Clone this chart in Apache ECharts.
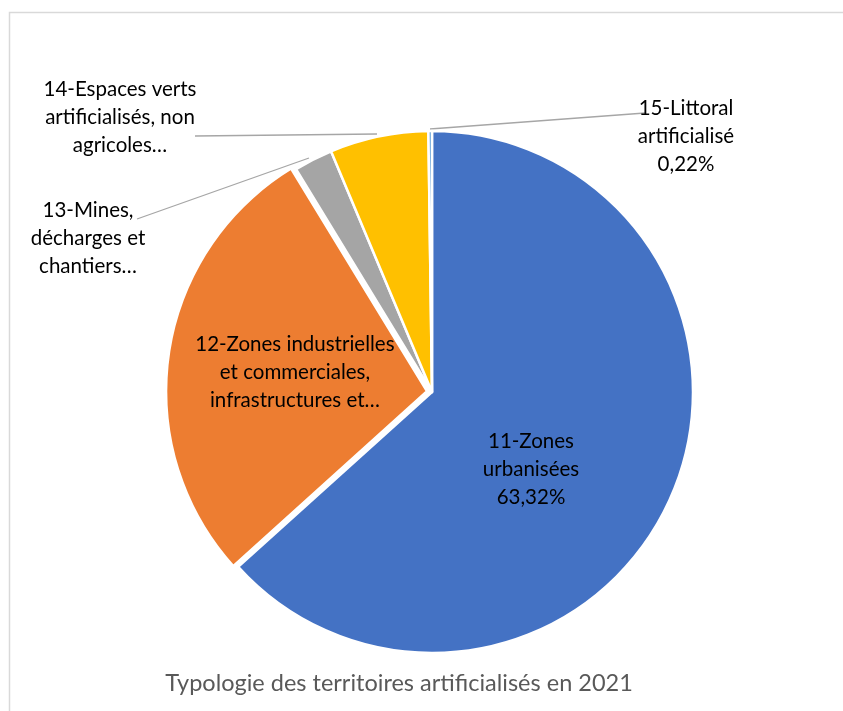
<!DOCTYPE html>
<html>
<head>
<meta charset="utf-8">
<script src="https://cdn.jsdelivr.net/npm/echarts@6/dist/echarts.min.js"></script>
<style>html,body{margin:0;padding:0;background:#fff;}#c{width:843px;height:711px;}</style>
</head>
<body>
<div id="c"></div>
<script>
const categories = [
  '11-Zones urbanisées',
  '12-Zones industrielles et commerciales, infrastructures et…',
  '13-Mines, décharges et chantiers…',
  '14-Espaces verts artificialisés, non agricoles…',
  '15-Littoral artificialisé'
];
const labelTexts = [
  '11-Zones\nurbanisées',
  '12-Zones industrielles\net commerciales,\ninfrastructures et…',
  '13-Mines,\ndécharges et\nchantiers…',
  '14-Espaces verts\nartificialisés, non\nagricoles…',
  '15-Littoral\nartificialisé'
];
const showPercent = [true, false, false, false, true];
const values = [63.32, 27.96, 2.40, 6.10, 0.22];
const colors = ['#4472C4', '#ED7D31', '#A5A5A5', '#FFC000', '#5B9BD5'];
const titleText = 'Typologie des territoires artificialisés en 2021';

const FONT = 'Lato, "Open Sans", sans-serif';

// label anchor positions (annotation placement)
const labelPos = [
  {x: 531, y: 469},
  {x: 283, y: 386},
  {x: 88, y: 238},
  {x: 120, y: 117},
  {x: 686, y: 136}
];
const leaderLines = [
  null,
  null,
  [[309, 158], [137, 219]],
  [[377, 134], [195, 136]],
  [[430, 129], [645, 113]]
];

const chart = echarts.init(document.getElementById('c'), null, {renderer: 'canvas'});

const data = values.map((v, i) => ({
  name: categories[i],
  value: v,
  selected: i === 1,
  itemStyle: {color: colors[i]},
  label: {
    position: (i === 0 || i === 1) ? 'inside' : 'outside'
  },
  labelLine: {show: !!leaderLines[i]}
}));

chart.setOption({
  animation: false,
  backgroundColor: '#fff',
  graphic: [{
    type: 'rect',
    shape: {x: 9.5, y: 12.5, width: 900, height: 800},
    style: {fill: 'none', stroke: '#d9d9d9', lineWidth: 1.5},
    silent: true
  }],
  title: {
    text: titleText,
    left: 394,
    top: 666,
    textAlign: 'center',
    textStyle: {fontFamily: FONT, fontSize: 23.5, fontWeight: 'normal', color: '#595959'}
  },
  series: [{
    type: 'pie',
    center: [432, 392],
    radius: [0, 261],
    startAngle: 90,
    clockwise: true,
    selectedMode: 'single',
    selectedOffset: 5,
    select: {itemStyle: {borderColor: '#fff', borderWidth: 2.5}},
    itemStyle: {borderColor: '#fff', borderWidth: 2.5},
    data: data,
    label: {
      show: true,
      fontFamily: FONT,
      fontSize: 20.5,
      lineHeight: 28,
      color: '#000',
      align: 'center',
      formatter: function (p) {
        let t = labelTexts[p.dataIndex];
        if (showPercent[p.dataIndex]) t += '\n' + p.value.toFixed(2).replace('.', ',') + '%';
        return t;
      }
    },
    labelLine: {
      show: true,
      lineStyle: {color: '#A6A6A6', width: 1.3}
    },
    labelLayout: function (params) {
      const i = params.dataIndex;
      const r = {
        x: labelPos[i].x,
        y: labelPos[i].y,
        align: 'center',
        verticalAlign: 'middle'
      };
      if (leaderLines[i]) r.labelLinePoints = leaderLines[i];
      return r;
    }
  }]
});
</script>
</body>
</html>
